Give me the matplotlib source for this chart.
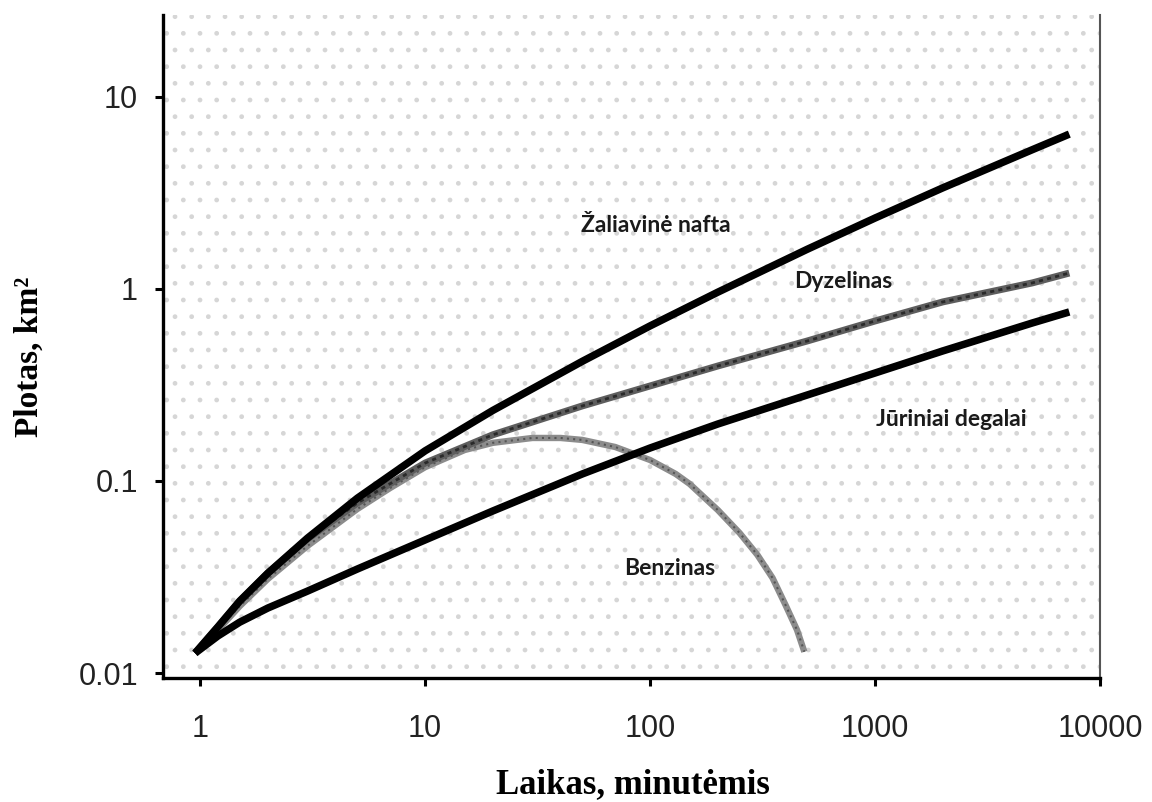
import matplotlib.pyplot as plt
from matplotlib.patches import Rectangle

# time, minutes (shared sample points)
laikas = [0.95, 1.2, 1.5, 2, 3, 5, 10, 20, 50, 100, 200, 500, 1000, 2000, 5000, 7300]

# area, km2
nafta = [0.0127, 0.0174, 0.0237, 0.0331, 0.0504, 0.0814, 0.1435, 0.233, 0.42, 0.642,
         0.962, 1.61, 2.34, 3.36, 5.31, 6.40]
dyzelinas = [0.0127, 0.0174, 0.0237, 0.0332, 0.0499, 0.0768, 0.124, 0.174, 0.246, 0.3125,
             0.397, 0.536, 0.681, 0.856, 1.075, 1.21]
juriniai = [0.0127, 0.0156, 0.0184, 0.0218, 0.0267, 0.0348, 0.0493, 0.0698, 0.1088,
            0.1485, 0.198, 0.2805, 0.365, 0.4755, 0.665, 0.759]

benz_laikas = [0.95, 1.2, 1.5, 2, 3, 5, 7, 10, 15, 20, 30, 40, 50, 70, 100, 130, 150,
               200, 250, 300, 350, 400, 450, 485]
benzinas = [0.0127, 0.01675, 0.0223, 0.0309, 0.0459, 0.0715, 0.092, 0.118, 0.145, 0.158,
            0.1675, 0.1675, 0.1636, 0.1503, 0.1286, 0.1088, 0.0965, 0.0706, 0.0536,
            0.0412, 0.0313, 0.0226, 0.01675, 0.0129]

x_ticks = [1, 10, 100, 1000, 10000]
x_tick_labels = ['1', '10', '100', '1000', '10000']
y_ticks = [0.01, 0.1, 1, 10]
y_tick_labels = ['0.01', '0.1', '1', '10']

fig = plt.figure(figsize=(11.52, 8.02), dpi=100)
ax = fig.add_axes([0.1415, 0.1546, 0.8134, 0.8267])
ax.set_xscale('log')
ax.set_yscale('log')
ax.set_xlim(0.684, 10000)
ax.set_ylim(0.00942, 26.7)

# stippled background
plt.rcParams['hatch.linewidth'] = 1.0
ax.add_patch(Rectangle((0, 0), 1, 1, transform=ax.transAxes, facecolor='white',
                       edgecolor='#d6d6d6', hatch='.', lw=0, zorder=0))

line = dict(solid_capstyle='butt', solid_joinstyle='round')
ax.plot(laikas, juriniai, color='black', lw=5.4, zorder=3, **line)
ax.plot(benz_laikas, benzinas, color='#8c8c8c', lw=4.6, zorder=2, **line)
ax.plot(benz_laikas, benzinas, color='#555555', lw=1.5, ls=(0, (1, 2)), zorder=2)
ax.plot(laikas, dyzelinas, color='#5e5e5e', lw=5.0, zorder=2, **line)
ax.plot(laikas, dyzelinas, color='#2a2a2a', lw=2.0, ls=(0, (1.5, 1.5)), zorder=2)
ax.plot(laikas, nafta, color='black', lw=5.4, zorder=3, **line)

lbl = dict(family='Lato', weight='bold', fontsize=16.5, color='#1a1a1a',
           ha='center', va='center', zorder=5)
ax.text(106, 2.15, 'Žaliavinė nafta', **lbl)
ax.text(724, 1.09, 'Dyzelinas', **lbl)
ax.text(2190, 0.208, 'Jūriniai degalai', **lbl)
ax.text(121.6, 0.0352, 'Benzinas', **lbl)

ax.set_xticks(x_ticks)
ax.set_xticklabels(x_tick_labels)
ax.set_yticks(y_ticks)
ax.set_yticklabels(y_tick_labels)
ax.minorticks_off()
for t in ax.get_xticklabels() + ax.get_yticklabels():
    t.set_family('Liberation Sans')
    t.set_fontsize(22)
    t.set_color('#222222')
ax.tick_params(axis='x', length=6, width=2.2, pad=20, direction='out')
ax.tick_params(axis='y', length=6, width=2.2, pad=12, direction='out')

ax.spines['top'].set_visible(False)
ax.spines['left'].set_linewidth(2.4)
ax.spines['bottom'].set_linewidth(2.4)
ax.spines['right'].set_linewidth(1.5)
ax.spines['right'].set_color('#555555')

fig.text(0.549, 0.022, 'Laikas, minutėmis', family='Liberation Serif',
         weight='bold', fontsize=25, ha='center', va='center')
fig.text(0.025, 0.555, 'Plotas, km²', family='Liberation Serif',
         weight='bold', fontsize=24, ha='center', va='center', rotation=90)

fig.savefig('out.png', dpi=100)
